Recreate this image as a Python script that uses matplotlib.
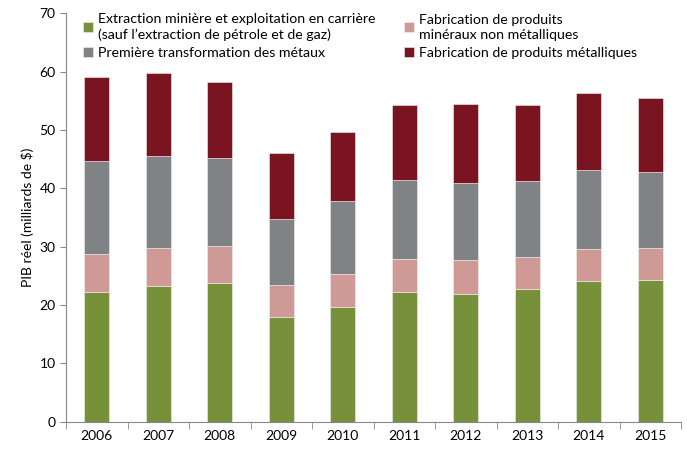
import matplotlib
matplotlib.use("Agg")
import matplotlib.pyplot as plt
import numpy as np

years = ["2006", "2007", "2008", "2009", "2010", "2011", "2012", "2013", "2014", "2015"]
extraction = [22.3, 23.3, 23.8, 17.9, 19.7, 22.3, 21.9, 22.8, 24.2, 24.3]
mineraux = [6.4, 6.5, 6.3, 5.5, 5.6, 5.6, 5.8, 5.4, 5.4, 5.5]
metaux = [16.0, 15.7, 15.1, 11.3, 12.6, 13.5, 13.2, 13.0, 13.5, 13.0]
produits = [14.3, 14.3, 13.0, 11.3, 11.7, 12.8, 13.6, 13.0, 13.2, 12.7]

labels = ["Extraction minière et exploitation en carrière\n(sauf l\u2019extraction de pétrole et de gaz)",
          "Première transformation des métaux",
          "Fabrication de produits\nminéraux non métalliques",
          "Fabrication de produits métalliques"]
colors = ["#77913a", "#cf9a95", "#818285", "#7a1420"]

plt.rcParams['font.family'] = ['Lato', 'DejaVu Sans']

fig = plt.figure(figsize=(6.87, 4.49), dpi=100)
ax = fig.add_axes([66 / 687, 1 - 421.7 / 449, 615 / 687, (421.7 - 13.3) / 449])

x = np.arange(len(years))
series = [extraction, mineraux, metaux, produits]
bottom = np.zeros(len(years))
bars = []
for s, col in zip(series, colors):
    b = ax.bar(x, s, 0.4, bottom=bottom, color=col, edgecolor="#f0f0f0", linewidth=0.4)
    bars.append(b)
    bottom += np.array(s)

ax.set_xlim(-0.5, len(years) - 0.5)
ax.set_ylim(0, 70)
ax.set_yticks(range(0, 71, 10))
ax.set_xticks(x)
ax.set_xticklabels(years)
ax.set_xticks(np.arange(-0.5, len(years), 1), minor=True)
ax.tick_params(axis="x", which="major", length=0, pad=6, labelsize=10)
ax.tick_params(axis="x", which="minor", length=5, color="#888888", direction="out")
ax.tick_params(axis="y", length=4, color="#888888", labelsize=10)

for sp in ["top", "right"]:
    ax.spines[sp].set_visible(False)
for sp in ["left", "bottom"]:
    ax.spines[sp].set_color("#888888")

ax.set_ylabel("PIB réel (milliards de $)", fontsize=10)

# legend columns: green/gray left, pink/dark red right
handles = [bars[0], bars[2], bars[1], bars[3]]
leg = ax.legend(handles, labels, ncol=2, loc="upper left", bbox_to_anchor=(0.028, 1.0),
                frameon=False, fontsize=10.2, handlelength=0.72, handleheight=0.72,
                handletextpad=0.35, columnspacing=2.0, labelspacing=0.45,
                borderpad=0, borderaxespad=0)
for t in leg.get_texts():
    t.set_linespacing(1.3)

fig.savefig("out.png", dpi=100)
